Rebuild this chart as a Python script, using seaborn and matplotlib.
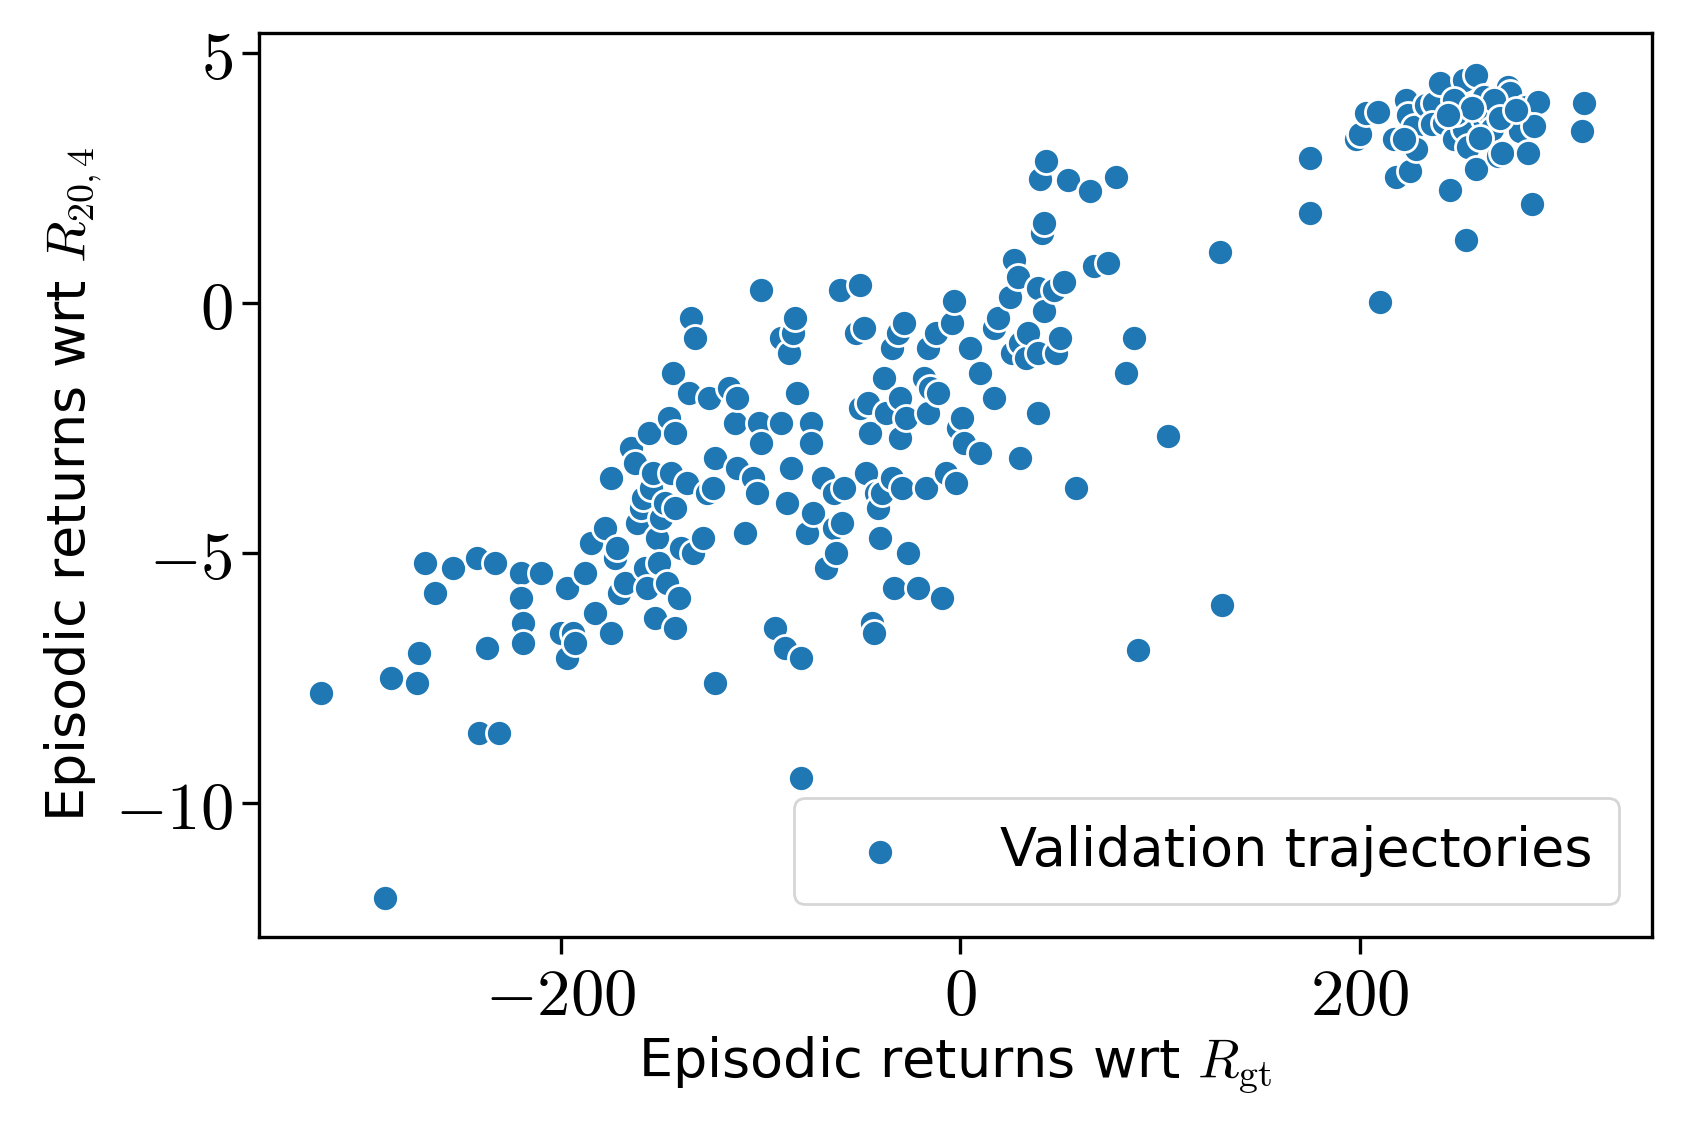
import numpy as np
import pandas as pd
import matplotlib
matplotlib.use("Agg")
import matplotlib.pyplot as plt
import seaborn as sns
from matplotlib.ticker import FixedLocator, FuncFormatter

# === Data: episodic returns (x = w.r.t. R_gt, y = w.r.t. R_20,4)
ret_gt = [
    -320, -288, -285, -272, -271, -268, -263, -254, -242, -241, -237, -233, -231,
    -220, -220, -219, -219, -210, -200, -197, -197, -194, -193, -188, -185, -183,
    -178, -175, -175, -173, -172, -171, -168, -165, -163, -162, -160, -159, -158,
    -157, -156, -155, -154, -153, -152, -151, -150, -148, -147, -146, -145, -144,
    -143, -143, -143, -141, -140, -137, -136, -135, -134, -133, -129, -127, -126,
    -124, -123, -123, -116, -113, -112, -112, -108, -104, -102, -100, -101, -100,
    -93, -90, -90, -88, -87, -86, -85, -84, -83, -82, -80, -80, -77, -75, -75,
    -74, -69, -67, -63, -63, -62, -60, -59, -58, -52, -50, -50, -48, -47, -46,
    -45, -44, -43, -42, -41, -40, -39, -38, -37, -34, -34, -33, -31, -30, -30,
    -29, -28, -27, -26, -21, -18, -17, -16, -16, -15, -12, -11, -9, -7, -4, -3,
    -2, -1, 1, 2, 5, 10, 10, 17, 17, 19, 25, 26, 27, 29, 30, 30, 33, 34, 39, 39,
    39, 40, 41, 42, 42, 43, 47, 48, 50, 52, 54, 58, 65, 67, 74, 78, 83, 87, 89,
    104, 130, 131, 175, 175, 210, 253, 245, 286, 311, 312,
    198, 200, 203, 209, 217, 218, 225, 223, 224, 227,
    228, 233, 237, 236, 240, 242, 247, 252, 258, 252,
    254, 258, 262, 262, 263, 266, 269, 271, 274, 275,
    280, 283, 284, 289, 287, 222, 248, 247, 267, 256,
    260, 244, 270, 278,
]
ret_204 = [
    -7.8, -11.9, -7.5, -7.6, -7.0, -5.2, -5.8, -5.3, -5.1, -8.6, -6.9, -5.2, -8.6,
    -5.4, -5.9, -6.4, -6.8, -5.4, -6.6, -5.7, -7.1, -6.6, -6.8, -5.4, -4.8, -6.2,
    -4.5, -3.5, -6.6, -5.1, -4.9, -5.8, -5.6, -2.9, -3.2, -4.4, -4.1, -3.9, -5.3,
    -5.7, -2.6, -3.7, -3.4, -6.3, -4.7, -5.2, -4.3, -4.0, -5.6, -2.3, -3.4, -1.4,
    -2.6, -6.5, -4.1, -5.9, -4.9, -3.6, -1.8, -0.3, -5.0, -0.7, -4.7, -3.8, -1.9,
    -3.7, -3.1, -7.6, -1.7, -2.4, -1.9, -3.3, -4.6, -3.5, -3.8, 0.26, -2.4, -2.8,
    -6.5, -2.4, -0.7, -6.9, -4.0, -1.0, -3.3, -0.6, -0.3, -1.8, -7.1, -9.5, -4.6,
    -2.4, -2.8, -4.2, -3.5, -5.3, -3.8, -4.5, -5.0, 0.26, -4.4, -3.7, -0.6, 0.36,
    -2.1, -0.5, -3.4, -2.0, -2.6, -6.4, -6.6, -3.8, -4.1, -4.7, -3.8, -1.5, -2.2,
    -3.5, -0.9, -5.7, -0.6, -1.9, -2.7, -3.7, -0.4, -2.3, -5.0, -5.7, -1.5, -3.7,
    -2.2, -0.9, -1.7, -0.6, -1.8, -5.9, -3.4, -0.4, 0.04, -3.6, -2.5, -2.3, -2.8,
    -0.9, -1.4, -3.0, -1.9, -0.5, -0.3, 0.11, -1.0, 0.86, 0.52, -3.1, -0.8, -1.1,
    -0.6, -2.2, -1.0, 0.3, 2.47, 1.39, 1.59, -0.17, 2.83, 0.26, -1.0, -0.7, 0.41,
    2.45, -3.7, 2.23, 0.73, 0.79, 2.51, -1.4, -0.7, -6.95, -2.66, 1.01, -6.05,
    2.90, 1.80, 0.02, 1.25, 2.25, 1.97, 3.43, 3.99,
    3.27, 3.37, 3.80, 3.82, 3.27, 2.51, 2.63, 4.06, 3.76, 3.51,
    3.07, 3.96, 4.00, 3.57, 4.40, 3.60, 3.27, 4.46, 4.56, 3.47,
    3.11, 2.67, 4.12, 3.67, 3.86, 3.47, 2.93, 3.00, 4.32, 4.20,
    3.43, 3.92, 3.00, 4.02, 3.53, 3.27, 3.80, 4.06, 4.06, 3.90,
    3.30, 3.75, 3.70, 3.85,
]
x_ticks = [-200, 0, 200]
y_ticks = [5, 0, -5, -10]

df = pd.DataFrame({"gt": ret_gt, "r204": ret_204})

sns.set_theme(style="ticks")
plt.rcParams["font.family"] = ["DejaVu Sans"]
plt.rcParams["mathtext.fontset"] = "cm"
for key in ["text.color", "axes.labelcolor", "xtick.color", "ytick.color", "axes.edgecolor"]:
    plt.rcParams[key] = "black"

fig = plt.figure(figsize=(1682 / 200, 1138 / 200), dpi=200)
ax = fig.add_axes([0.154, 0.177, 0.828, 0.794])

sns.scatterplot(data=df, x="gt", y="r204", ax=ax, color="#1f77b4", s=88,
                edgecolor="white", linewidth=1.0, label="Validation trajectories")

ax.set_xlim(-351, 346)
ax.set_ylim(-12.68, 5.39)
ax.xaxis.set_major_locator(FixedLocator(x_ticks))
ax.yaxis.set_major_locator(FixedLocator(y_ticks))
fmt = FuncFormatter(lambda v, p: r"$%d$" % v)
ax.xaxis.set_major_formatter(fmt)
ax.yaxis.set_major_formatter(fmt)
ax.tick_params(labelsize=24, length=6, width=1.2, color="black")
for sp in ax.spines.values():
    sp.set_color("black")
    sp.set_linewidth(1.2)

ax.set_xlabel(r"Episodic returns wrt $R_{\mathrm{gt}}$", fontsize=19.5, labelpad=2)
ax.set_ylabel(r"Episodic returns wrt $R_{20,4}$", fontsize=19.5, labelpad=4)

leg = ax.legend(loc="lower right", fontsize=19.5, frameon=True, borderpad=0.5,
                handletextpad=1.1, handlelength=2.2, borderaxespad=0.6)
leg.get_frame().set_edgecolor("#cccccc")

fig.savefig("out.png", dpi=200)
